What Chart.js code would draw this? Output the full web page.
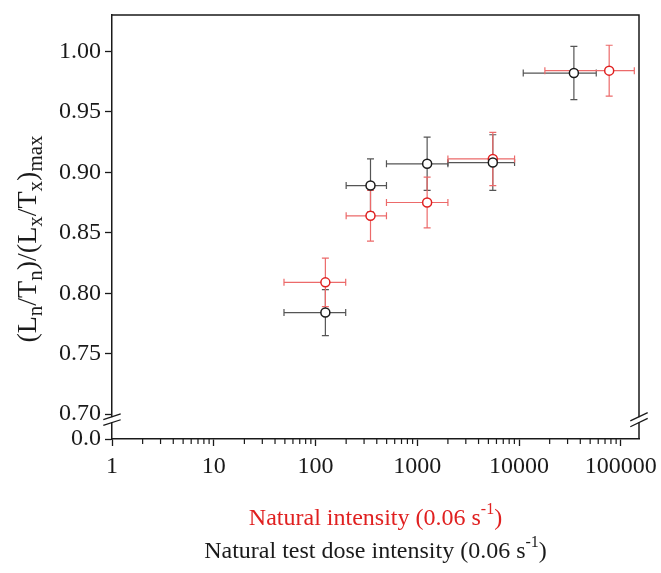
<!DOCTYPE html>
<html lang="en">
<head>
    <meta charset="UTF-8">
    <title>Normalised sensitivity vs intensity</title>
    <script src="https://cdn.jsdelivr.net/npm/chart.js"></script>
    <style>
        body {
            margin: 0;
            background-color: #ffffff;
        }
        #wrap {
            width: 661px;
            height: 573px;
        }
    </style>
</head>
<body>
    <div id="wrap"><canvas id="sensChart" width="661" height="573"></canvas></div>

    <script>
        // Natural intensity (red)
        const natX = [125, 347, 1250, 5525, 76900];
        const natY = [0.809, 0.864, 0.875, 0.911, 0.984];
        const natXLow = [49, 200, 498, 2000, 17950];
        const natXHigh = [198, 498, 2000, 9040, 135800];
        const natYErr = [0.020, 0.021, 0.021, 0.022, 0.021];

        // Natural test dose intensity (black)
        const testX = [125, 347, 1250, 5525, 34600];
        const testY = [0.784, 0.889, 0.907, 0.908, 0.982];
        const testXLow = [49, 200, 498, 2000, 11000];
        const testXHigh = [198, 498, 2000, 9040, 57400];
        const testYErr = [0.019, 0.022, 0.022, 0.023, 0.022];

        const xTicks = [1, 10, 100, 1000, 10000, 100000];
        const yTicks = [0.70, 0.75, 0.80, 0.85, 0.90, 0.95, 1.00];
        const yMin = 0.6795, yMax = 1.030;

        const FONT = "'Liberation Serif', 'Times New Roman', serif";
        const RED = '#e02020';
        const INK = '#1a1a1a';

        function toPoints(xs, ys) {
            return xs.map((x, i) => ({ x: x, y: ys[i] }));
        }

        function noScalePadding(scale) {
            scale.paddingLeft = 0;
            scale.paddingRight = 0;
            scale.paddingTop = 0;
            scale.paddingBottom = 0;
        }

        // error bars, frame, axis breaks, minor ticks and titles
        const decorations = {
            id: 'decorations',
            beforeDatasetsDraw(chart) {
                const ctx = chart.ctx;
                const xs = chart.scales.x, ys = chart.scales.y;
                const sets = [
                    { x: testX, y: testY, lo: testXLow, hi: testXHigh, e: testYErr, c: '#555555' },
                    { x: natX, y: natY, lo: natXLow, hi: natXHigh, e: natYErr, c: '#ec6a6a' }
                ];
                const cap = 3.5;
                ctx.save();
                ctx.lineWidth = 1.2;
                sets.forEach(s => {
                    ctx.strokeStyle = s.c;
                    s.x.forEach((xv, i) => {
                        const px = xs.getPixelForValue(xv);
                        const py = ys.getPixelForValue(s.y[i]);
                        const x1 = xs.getPixelForValue(s.lo[i]);
                        const x2 = xs.getPixelForValue(s.hi[i]);
                        const y1 = ys.getPixelForValue(s.y[i] + s.e[i]);
                        const y2 = ys.getPixelForValue(s.y[i] - s.e[i]);
                        ctx.beginPath();
                        ctx.moveTo(x1, py); ctx.lineTo(x2, py);
                        ctx.moveTo(x1, py - cap); ctx.lineTo(x1, py + cap);
                        ctx.moveTo(x2, py - cap); ctx.lineTo(x2, py + cap);
                        ctx.moveTo(px, y1); ctx.lineTo(px, y2);
                        ctx.moveTo(px - cap, y1); ctx.lineTo(px + cap, y1);
                        ctx.moveTo(px - cap, y2); ctx.lineTo(px + cap, y2);
                        ctx.stroke();
                    });
                });
                ctx.restore();
            },
            afterDraw(chart) {
                const ctx = chart.ctx;
                const a = chart.chartArea;
                const xs = chart.scales.x, ys = chart.scales.y;
                ctx.save();

                // top and right frame
                ctx.strokeStyle = INK;
                ctx.lineWidth = 1.5;
                ctx.beginPath();
                ctx.moveTo(a.left, a.top);
                ctx.lineTo(a.right, a.top);
                ctx.lineTo(a.right, a.bottom);
                ctx.stroke();

                // minor ticks on log axis
                ctx.lineWidth = 1.2;
                ctx.beginPath();
                for (let d = 0; d <= 5; d++) {
                    for (let k = 2; k <= 9; k++) {
                        const v = k * Math.pow(10, d);
                        if (v > xs.max) continue;
                        const px = xs.getPixelForValue(v);
                        ctx.moveTo(px, a.bottom);
                        ctx.lineTo(px, a.bottom + 5);
                    }
                }
                ctx.stroke();

                // axis breaks
                const by = ys.getPixelForValue(0.70) + 5.5;
                [[a.left, 5.7], [a.right, 8.3]].forEach(([bx, slope]) => {
                    ctx.fillStyle = '#ffffff';
                    ctx.fillRect(bx - 2, by - 2.5, 4, 5);
                    ctx.strokeStyle = INK;
                    ctx.lineWidth = 1.3;
                    ctx.beginPath();
                    [-2.9, 2.9].forEach(off => {
                        ctx.moveTo(bx - 8.7, by + off + slope / 2);
                        ctx.lineTo(bx + 8.7, by + off - slope / 2);
                    });
                    ctx.stroke();
                });

                // x axis titles
                const cx = (a.left + a.right) / 2;
                function supTitle(text, y, color) {
                    ctx.fillStyle = color;
                    ctx.textBaseline = 'alphabetic';
                    ctx.textAlign = 'left';
                    const main = "24px " + FONT, sup = "16px " + FONT;
                    ctx.font = main;
                    const w1 = ctx.measureText(text).width;
                    ctx.font = sup;
                    const w2 = ctx.measureText('-1').width;
                    ctx.font = main;
                    const w3 = ctx.measureText(')').width;
                    let x = cx - (w1 + w2 + w3) / 2;
                    ctx.fillText(text, x, y);
                    x += w1;
                    ctx.font = sup;
                    ctx.fillText('-1', x, y - 11);
                    x += w2;
                    ctx.font = main;
                    ctx.fillText(')', x, y);
                }
                supTitle('Natural intensity (0.06 s', 525, RED);
                supTitle('Natural test dose intensity (0.06 s', 558, INK);

                // y axis title with subscripts
                const parts = [
                    ['(L', 0], ['n', 1], ['/T', 0], ['n', 1], [')/(L', 0],
                    ['x', 1], ['/T', 0], ['x', 1], [')', 0], ['max', 1]
                ];
                const mainF = "28px " + FONT, subF = "21px " + FONT;
                let total = 0;
                parts.forEach(p => {
                    ctx.font = p[1] ? subF : mainF;
                    total += ctx.measureText(p[0]).width;
                });
                ctx.translate(36, (a.top + a.bottom) / 2 + 12);
                ctx.rotate(-Math.PI / 2);
                ctx.fillStyle = INK;
                ctx.textAlign = 'left';
                let tx = -total / 2;
                parts.forEach(p => {
                    ctx.font = p[1] ? subF : mainF;
                    ctx.fillText(p[0], tx, p[1] ? 6 : 0);
                    tx += ctx.measureText(p[0]).width;
                });
                ctx.restore();
            }
        };

        const ctx = document.getElementById('sensChart').getContext('2d');
        new Chart(ctx, {
            type: 'scatter',
            data: {
                datasets: [
                    {
                        label: 'Natural test dose intensity',
                        data: toPoints(testX, testY),
                        pointRadius: 4.5,
                        pointHoverRadius: 4.5,
                        pointBorderWidth: 1.5,
                        borderColor: INK,
                        backgroundColor: '#ffffff'
                    },
                    {
                        label: 'Natural intensity',
                        data: toPoints(natX, natY),
                        pointRadius: 4.5,
                        pointHoverRadius: 4.5,
                        pointBorderWidth: 1.5,
                        borderColor: RED,
                        backgroundColor: '#ffffff'
                    }
                ]
            },
            options: {
                responsive: false,
                animation: false,
                layout: { padding: { top: 15, right: 22, left: 0, bottom: 0 } },
                plugins: {
                    legend: { display: false },
                    tooltip: { enabled: false }
                },
                scales: {
                    x: {
                        type: 'logarithmic',
                        min: 1,
                        max: 151000,
                        afterBuildTicks: scale => {
                            scale.ticks = xTicks.map(v => ({ value: v }));
                        },
                        afterFit: scale => {
                            scale.height = 134;
                            noScalePadding(scale);
                        },
                        ticks: {
                            callback: v => String(v),
                            font: { family: FONT, size: 24 },
                            color: INK,
                            padding: 6,
                            maxRotation: 0,
                            autoSkip: false
                        },
                        grid: {
                            drawOnChartArea: false,
                            tickLength: 7,
                            tickWidth: 1.3,
                            color: INK
                        },
                        border: { color: INK, width: 1.5 }
                    },
                    y: {
                        min: yMin,
                        max: yMax,
                        afterBuildTicks: scale => {
                            scale.ticks = [{ value: yMin }].concat(yTicks.map(v => ({ value: v })));
                        },
                        afterFit: scale => {
                            scale.width = 112;
                            noScalePadding(scale);
                        },
                        ticks: {
                            callback: v => (v === yMin ? '0.0' : v.toFixed(2)),
                            font: { family: FONT, size: 24 },
                            color: INK,
                            padding: 4
                        },
                        grid: {
                            drawOnChartArea: false,
                            tickLength: 7,
                            tickWidth: 1.3,
                            color: INK
                        },
                        border: { color: INK, width: 1.5 }
                    }
                }
            },
            plugins: [decorations]
        });
    </script>
</body>
</html>
